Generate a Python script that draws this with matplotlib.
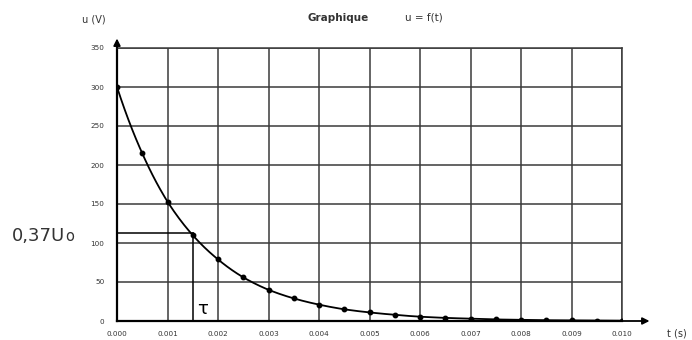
import matplotlib
matplotlib.use("Agg")
import matplotlib.pyplot as plt
import numpy as np

t_values = [0.0, 0.0005, 0.001, 0.0015, 0.002, 0.0025, 0.003, 0.0035, 0.004, 0.0045,
            0.005, 0.0055, 0.006, 0.0065, 0.007, 0.0075, 0.008, 0.0085, 0.009, 0.0095, 0.010]
u_values = [300, 215, 153, 110, 79, 56, 40, 29, 21, 15,
            11, 8, 5.5, 4, 3, 2, 1.5, 1, 0.8, 0.5, 0.4]
x_ticks = [0.000, 0.001, 0.002, 0.003, 0.004, 0.005, 0.006, 0.007, 0.008, 0.009, 0.010]
x_tick_labels = ["0.000", "0.001", "0.002", "0.003", "0.004", "0.005",
                 "0.006", "0.007", "0.008", "0.009", "0.010"]
y_ticks = [0, 50, 100, 150, 200, 250, 300, 350]
tau = 0.0015
u_tau = 113

fig = plt.figure(figsize=(6.92, 3.40), dpi=100)
ax = fig.add_axes([117/692, 1 - 321/340, 505/692, 273/340])

ax.set_xlim(0, 0.010)
ax.set_ylim(0, 350)
ax.set_xticks(x_ticks)
ax.set_xticklabels(x_tick_labels)
ax.set_yticks(y_ticks)
ax.tick_params(axis="both", labelsize=5.2, colors="#333333", length=0)
ax.tick_params(axis="y", pad=9)
ax.tick_params(axis="x", pad=7)
ax.grid(True, color="#3a3a3a", linewidth=1.1)
for s in ax.spines.values():
    s.set_color("#3a3a3a")
    s.set_linewidth(1.1)
ax.spines["left"].set_color("black")
ax.spines["bottom"].set_color("black")
ax.spines["left"].set_linewidth(1.6)
ax.spines["bottom"].set_linewidth(1.6)

# smooth curve through points
ts = np.array(t_values)
us = np.array(u_values)
tf = np.linspace(0, 0.010, 400)
uf = np.exp(np.interp(tf, ts, np.log(us)))
ax.plot(tf, uf, color="black", linewidth=1.3, zorder=3)
ax.plot(ts, us, "o", color="black", markersize=3.2, zorder=4)

# tau construction
ax.plot([0, tau], [u_tau, u_tau], color="black", linewidth=1.1, zorder=3)
ax.plot([tau, tau], [0, u_tau], color="black", linewidth=1.1, zorder=3)
ax.text(tau + 0.00008, 4, "τ", fontsize=13, color="black", ha="left", va="bottom")

# arrows
ax.annotate("", xy=(0, 1.045), xytext=(0, 0.99), xycoords="axes fraction",
            arrowprops=dict(arrowstyle="-|>", color="black", lw=1.3, mutation_scale=10),
            annotation_clip=False)
ax.annotate("", xy=(1.06, 0), xytext=(0.99, 0), xycoords="axes fraction",
            arrowprops=dict(arrowstyle="-|>", color="black", lw=1.3, mutation_scale=10),
            annotation_clip=False)

# texts
fig.text(82/692, 1 - 19/340, "u (V)", fontsize=7, color="#333333", va="center", ha="left")
fig.text(308/692, 1 - 18/340, "Graphique", fontsize=7.5, fontweight="bold", color="#333333",
         va="center", ha="left")
fig.text(405/692, 1 - 18/340, "u = f(t)", fontsize=7.5, color="#333333", va="center", ha="left")
fig.text(667/692, 1 - 333/340, "t (s)", fontsize=7, color="#333333", va="center", ha="left")
lab = fig.text(12/692, 1 - 241/340, "0,37U", fontsize=13, color="#333333",
               va="baseline", ha="left")
fig.canvas.draw()
bb = lab.get_window_extent()
fig.text(bb.x1 / fig.bbox.width + 0.5/692, 1 - 241/340, "o", fontsize=10.5, color="#333333",
         va="baseline", ha="left")

fig.savefig("out.png", dpi=100)
